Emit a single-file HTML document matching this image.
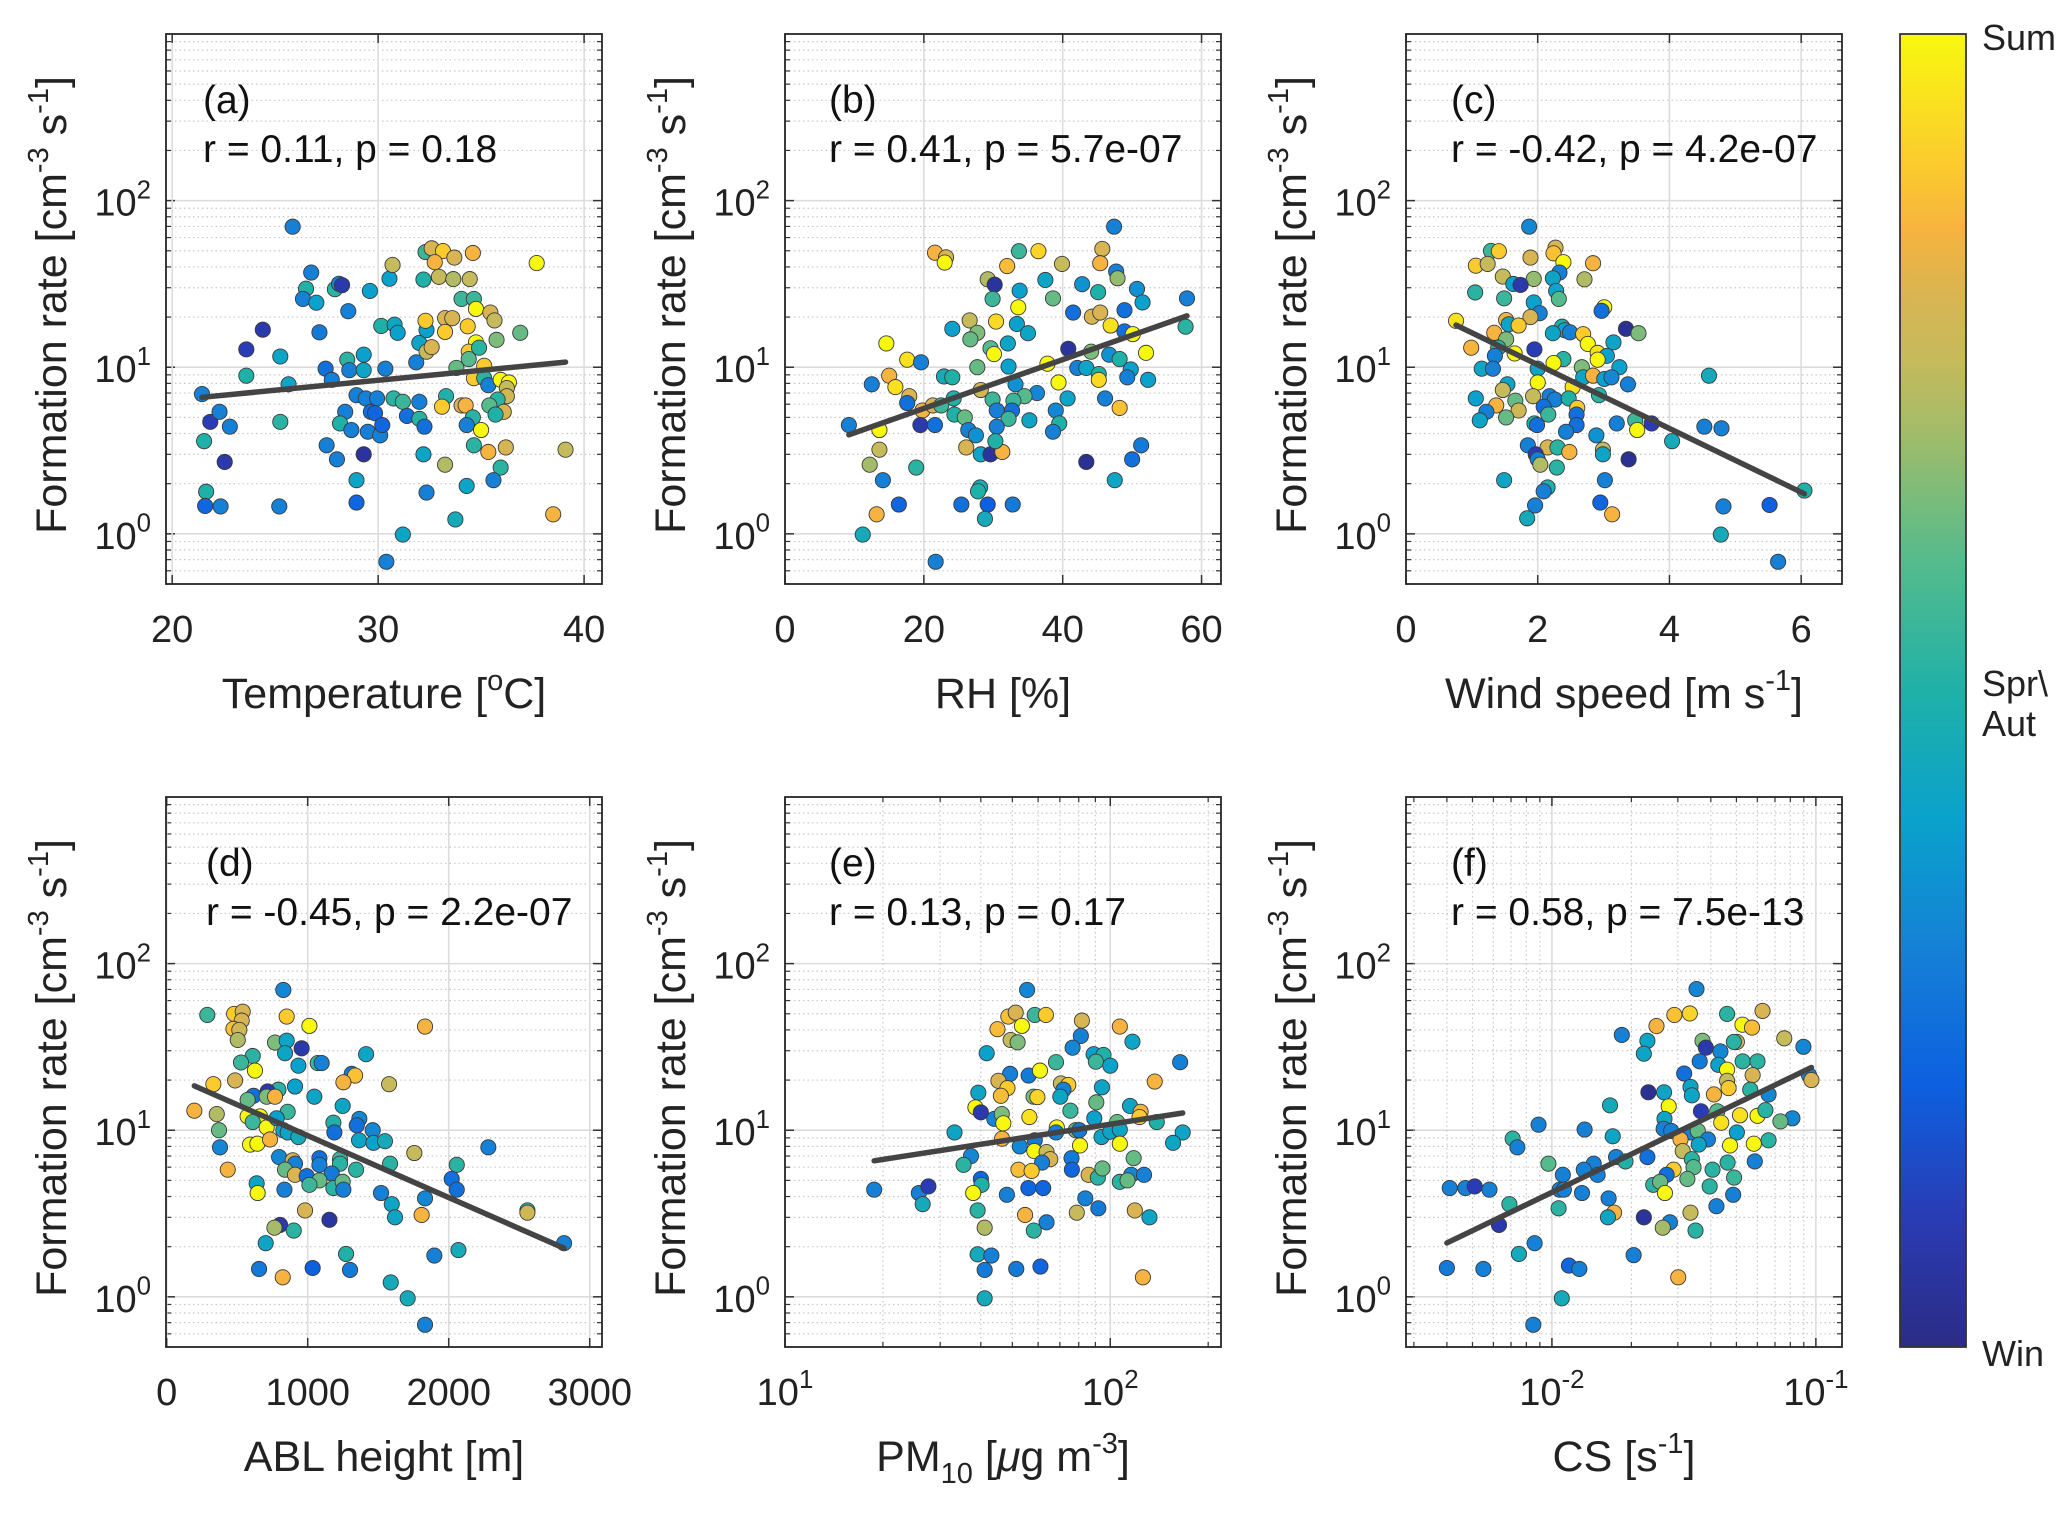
<!DOCTYPE html>
<html><head><meta charset="utf-8"><title>Formation rate scatter panels</title>
<style>
html,body{margin:0;padding:0;background:#fff;}
svg{display:block;font-family:"Liberation Sans",Arial,sans-serif;}
</style></head>
<body>
<svg id="fig" width="2067" height="1524" viewBox="0 0 2067 1524" xmlns="http://www.w3.org/2000/svg"></svg>
<script>
// ===== Panel (a) Temperature =====
const aX=[25.85,26.75,26.5,26.35,27.0,27.9,28.1,28.25,29.6,28.55,27.15,24.4,23.6,25.25,23.6,25.65,27.45,27.75,28.5,29.3,28.6,29.3,28.95,29.4,29.95,29.65,29.85,28.4,28.15,28.7,29.5,30.1,30.2,27.5,28.0,29.3,28.95,28.95,30.35,30.15,30.8,30.95,30.55,30.7,30.75,31.2,31.4,31.85,32.0,32.0,32.25,32.2,32.35,31.2,30.4,32.0,32.35,32.35,32.6,32.3,32.2,32.3,32.6,33.15,32.75,32.95,33.7,34.6,33.65,34.45,34.05,34.65,33.25,33.6,33.25,34.35,34.75,35.45,35.65,35.75,36.9,34.75,34.4,34.9,34.4,33.8,35.15,34.65,35.15,35.35,35.95,36.35,36.25,36.25,35.8,36.1,35.4,35.7,34.05,34.25,33.3,33.1,34.6,34.3,35.0,36.2,34.65,35.35,33.25,35.95,35.6,34.3,33.75,37.7,39.1,38.5,21.45,21.85,22.3,22.8,21.55,22.55,21.65,21.6,22.35,25.25,25.2];
const aY=[69.7,37,29.6,25.7,24.4,29.4,31.7,31.1,28.7,21.7,16.2,16.8,12.8,11.6,8.9,7.9,9.8,8.4,11.1,11.9,9.6,9.6,6.8,6.5,6.5,5.4,5.3,5.4,4.6,4.2,4.1,3.9,4.5,3.4,2.8,3.0,2.1,1.54,9.8,17.7,18.0,16.1,34.0,41.1,6.5,6.2,5.1,10.7,6.2,4.9,4.4,3.0,1.77,0.99,0.68,14.0,16.7,12.4,13.2,19.0,33.6,49.1,51.7,49.8,42.7,34.9,45.5,48.5,33.8,33.8,25.7,25.7,19.7,19.7,16.3,17.6,22.4,21.3,19.1,14.6,16.1,14.1,12.4,13.1,11.2,9.9,10.2,8.6,8.6,7.8,8.4,8.1,7.5,6.7,6.4,5.4,5.9,5.2,5.9,5.9,6.7,5.8,5.0,4.5,4.2,3.3,3.4,3.1,2.6,2.5,2.1,1.94,1.22,42.2,3.2,1.31,6.9,4.7,5.4,4.4,3.6,2.7,1.79,1.47,1.46,4.7,1.46];
const aC=[0.3,0.3,0.5,0.3,0.4,0.52,0.3,0.08,0.4,0.3,0.28,0.08,0.1,0.42,0.5,0.42,0.25,0.3,0.52,0.4,0.3,0.42,0.3,0.3,0.3,0.25,0.22,0.3,0.5,0.3,0.3,0.3,0.22,0.3,0.3,0.05,0.42,0.22,0.3,0.5,0.42,0.4,0.4,0.75,0.52,0.55,0.25,0.3,0.3,0.52,0.25,0.42,0.3,0.42,0.3,0.42,0.4,0.75,0.8,0.9,0.5,0.55,0.8,0.9,0.85,0.75,0.8,0.85,0.72,0.75,0.55,0.55,0.8,0.8,0.9,0.9,1,0.8,0.75,0.65,0.62,1,0.9,0.52,0.6,0.62,0.9,0.9,0.52,0.3,1,1,0.75,0.78,0.52,0.8,0.6,0.5,0.8,0.85,0.5,0.9,0.52,0.3,1,0.8,0.52,0.85,0.72,0.52,0.3,0.42,0.45,1,0.75,0.85,0.3,0.1,0.3,0.3,0.5,0.08,0.5,0.22,0.3,0.52,0.3];
const aTicks=[20,30,40];

// ===== Panel (b) RH =====
const bX=[47.4,21.6,23.2,23.0,33.7,36.5,32.0,39.9,45.7,45.4,47.7,47.9,29.2,30.2,29.9,33.8,37.5,38.6,42.8,45.1,50.7,51.5,57.9,33.6,41.5,48.9,44.2,45.4,46.9,48.9,50.1,57.7,26.6,24.1,30.4,33.4,35.0,27.7,26.7,32.1,29.6,30.1,14.6,17.6,19.6,40.8,44.1,46.7,48.2,52.0,27.7,32.2,37.8,42.1,43.4,45.2,45.2,49.8,49.3,52.3,39.4,12.5,15.0,15.9,22.9,24.1,28.2,33.2,36.3,34.5,29.9,32.9,40.7,46.1,48.2,17.9,17.6,19.8,21.3,22.5,24.3,24.4,25.9,30.5,32.7,32.2,30.5,39.0,39.5,35.2,38.6,9.2,13.6,19.5,21.6,26.4,27.5,13.6,12.2,18.9,14.1,26.1,28.2,29.6,31.3,30.3,43.4,50.0,51.3,47.5,28.1,27.8,16.4,25.4,29.2,32.8,28.8,13.2,11.2,21.7];
const bY=[69.8,48.7,45.7,42.5,49.7,49.7,40.5,41.7,51.3,42.1,37.5,34.2,33.7,31.3,25.7,28.8,33.4,25.9,31.5,28.2,29.5,24.5,25.9,22.9,21.3,22.0,20.1,21.3,17.8,16.4,15.8,17.5,19.1,17.0,18.8,18.2,16.0,16.1,14.7,13.9,13.0,12.0,13.9,11.1,10.7,12.9,12.4,11.9,11.2,12.2,10,10.1,10.5,9.9,9.9,9.1,8.4,9.7,8.7,8.4,8.1,7.9,8.9,7.6,8.8,8.7,7.3,7.9,7.0,6.7,6.4,6.3,6.5,6.5,5.7,6.7,6.1,5.5,5.9,5.9,6.5,5.2,5.0,5.5,5.5,4.9,4.4,5.5,4.6,4.8,4.1,4.5,4.2,4.5,4.5,4.2,3.9,3.2,2.6,2.5,2.1,3.3,3.0,3.0,3.1,3.6,2.7,2.8,3.4,2.1,1.9,1.8,1.5,1.5,1.5,1.5,1.23,1.31,0.99,0.68];
const bC=[0.3,0.85,0.8,1,0.55,0.92,0.87,0.75,0.8,0.85,0.3,0.68,0.72,0.05,0.55,0.4,0.42,0.62,0.35,0.5,0.35,0.4,0.3,1,0.25,0.25,0.8,0.8,0.95,0.25,1,0.52,0.75,0.4,0.93,0.4,0.42,0.65,0.62,0.42,0.6,1,1,0.95,0.3,0.05,0.65,0.35,0.5,1,0.62,0.4,1,0.3,0.42,0.5,0.93,0.4,0.3,0.4,1,0.3,0.85,0.95,0.45,0.5,0.78,0.35,0.32,0.6,0.55,0.55,0.42,0.3,0.88,0.8,0.25,0.85,0.8,0.55,0.5,0.5,0.62,0.3,0.25,0.55,0.3,0.32,0.5,0.42,0.3,0.3,1,0.08,0.25,0.3,0.35,0.75,0.7,0.52,0.3,0.8,0.42,0.05,0.85,0.5,0.03,0.25,0.28,0.42,0.45,0.5,0.22,0.25,0.2,0.28,0.45,0.85,0.45,0.3];
const bTicks=[0,20,40,60];

// ===== Panel (c) Wind speed =====
const cX=[1.87,1.29,1.41,1.06,1.24,1.89,2.27,2.24,2.39,2.84,2.33,2.23,2.71,1.47,1.94,1.63,1.74,2.28,1.05,1.49,2.32,1.94,3.01,2.97,2.03,1.89,0.76,1.52,1.56,1.71,2.37,2.41,2.49,2.23,3.34,3.53,2.69,1.34,1.52,2.76,3.15,0.99,1.40,1.35,1.65,1.95,2.91,3.05,2.39,2.24,2.91,2.67,3.24,1.15,1.32,2.00,2.69,2.84,3.01,3.12,3.37,2.00,1.54,4.60,2.53,1.47,2.93,1.06,1.93,2.18,2.26,2.47,1.66,1.37,1.22,1.71,2.09,2.60,2.59,2.16,1.12,1.52,1.95,1.99,2.59,2.43,3.20,3.48,3.51,3.73,4.53,4.79,2.89,4.04,1.85,2.15,2.30,2.48,1.97,2.00,2.04,2.99,2.99,3.38,2.29,1.49,3.02,2.15,2.09,1.96,2.95,3.13,1.84,4.82,5.52,6.05,4.78,5.65];
const cY=[69.8,49.9,49.7,40.7,41.7,45.5,52.2,48.3,42.7,42.1,37.0,34.2,33.7,35.0,33.9,31.6,31.2,28.7,28.1,25.9,25.7,24.5,22.9,21.8,21.1,20.0,19.0,19.2,18.1,17.8,17.5,16.7,16.2,16.0,17.0,16.0,15.8,16.1,14.7,13.8,14.1,13.1,13.1,11.7,12.1,12.8,12.2,11.7,11.2,10.6,11.1,10,10,9.8,9.8,9.8,8.7,8.9,8.5,8.7,7.9,8.1,7.9,8.9,7.6,7.3,6.8,6.5,6.7,6.7,6.4,6.5,6.3,5.9,5.4,5.5,5.8,5.7,5.2,5.2,4.8,5.0,4.6,4.5,4.5,4.1,4.6,4.8,4.2,4.6,4.4,4.3,3.9,3.6,3.4,3.3,3.3,3.1,3.0,2.8,2.6,3.2,3.0,2.8,2.5,2.1,2.1,1.9,1.8,1.48,1.54,1.31,1.24,1.46,1.49,1.82,0.99,0.68];
const cC=[0.32,0.55,0.9,0.9,0.75,0.8,0.8,0.88,1,0.85,0.3,0.42,0.72,0.75,0.68,0.4,0.08,0.42,0.52,0.55,0.6,0.4,1,0.25,0.3,0.8,0.95,0.85,0.42,0.9,0.5,0.4,0.3,0.42,0.03,0.65,0.9,0.85,0.65,1,0.42,0.85,0.52,0.3,1,0.1,0.95,0.4,0.52,1,1,0.65,0.4,0.42,0.3,0.42,0.42,0.85,0.4,0.32,0.3,1,0.42,0.45,0.95,0.75,0.52,0.4,0.75,0.3,0.3,0.5,0.62,0.85,0.3,0.78,0.25,0.9,0.25,0.55,0.42,0.62,0.5,0.25,0.25,0.3,0.3,0.55,1,0.1,0.3,0.3,0.35,0.45,0.3,0.8,0.52,0.85,0.1,0.3,0.72,0.75,0.42,0.03,0.52,0.42,0.3,0.5,0.3,0.3,0.22,0.85,0.45,0.3,0.2,0.5,0.45,0.3];
const cTicks=[0,2,4,6];

// ===== Panel (d) ABL height =====
const dX=[827,288,478,539,532,473,515,504,851,1012,1832,768,851,957,839,1414,610,527,934,1071,1099,626,1312,1336,1253,1577,331,485,792,910,716,615,709,768,1047,1248,196,355,574,858,574,662,610,709,780,827,858,934,1182,1366,1348,1189,1461,1364,1466,1548,371,378,591,643,733,1756,2281,433,797,894,910,839,910,1083,1083,1229,1229,1343,1584,2057,993,1170,1083,1012,1182,1248,1253,2021,2057,638,645,835,1520,1596,1832,981,1154,1619,1808,2558,2558,804,764,901,702,2818,1272,1898,2069,655,1035,1300,823,1589,1709,1832];
const dY=[69.5,49.2,49.9,51.5,45.5,40.6,40.0,34.8,48.1,42.3,41.9,33.6,34.5,31.0,29.0,28.6,27.9,25.5,24.4,25.3,25.3,22.8,21.8,21.3,19.4,18.9,18.9,19.9,17.5,18.3,17.1,16.1,15.9,15.9,15.9,14.0,13.1,12.5,15.2,12.9,12.1,12.1,11.2,10.4,11.8,10.0,9.7,9.1,11.1,11.7,10.7,9.7,10.0,8.7,8.4,8.6,10.0,7.9,8.2,8.3,8.8,7.3,7.9,5.8,6.9,6.6,6.3,5.8,5.4,6.8,6.2,6.7,6.3,5.8,6.3,6.2,5.3,5.5,5.0,4.7,4.5,4.9,4.4,5.1,4.4,4.8,4.2,4.4,4.2,3.6,3.9,3.3,2.9,3.0,3.1,3.3,3.2,2.7,2.6,2.5,2.1,2.1,1.81,1.77,1.91,1.47,1.49,1.45,1.31,1.22,0.98,0.68];
const dC=[0.32,0.55,0.9,0.8,0.8,0.88,0.78,0.72,0.9,1,0.85,0.65,0.42,0.08,0.42,0.42,0.52,0.55,0.4,0.55,0.3,1,0.28,0.88,0.85,0.75,0.9,0.8,0.52,0.4,0.08,0.25,0.65,0.85,0.42,0.42,0.85,0.72,0.62,0.55,1,1,0.55,1,0.4,0.42,0.42,0.45,0.5,0.32,0.25,0.25,0.32,0.42,0.4,0.45,0.62,0.32,1,1,0.85,0.75,0.3,0.85,0.32,0.8,0.3,0.62,0.8,0.25,0.3,0.55,0.52,0.52,0.52,0.52,0.25,0.28,0.62,0.55,0.52,0.62,0.3,0.25,0.25,0.42,1,0.3,0.3,0.42,0.32,0.8,0.06,0.42,0.85,0.52,0.78,0.08,0.7,0.52,0.42,0.3,0.5,0.3,0.45,0.28,0.2,0.28,0.85,0.45,0.45,0.3];
const dTicks=[0,1000,2000,3000];

// ===== Panel (e) PM10 =====
const eX=[55.5,48.6,51.2,58.6,63.4,53.5,45.0,81.8,81.2,107,117,49.4,51.9,76.6,41.7,88.9,95.3,90.3,100,164,68.1,49.2,56.1,60.8,45.3,48.3,46.1,70.5,74.3,71.8,70.2,94.3,137,39.3,58.1,59.7,90.6,75.4,38.5,40.0,44.0,46.4,46.9,56.4,115,124,123,139,89.3,105,33.2,46.5,68.5,68.1,78.3,80.3,94.0,100,107,167,156,52.7,58.6,58.4,63.7,65.4,61.7,80.7,107,76.0,76.2,118,37.3,35.4,52.2,57.3,85.8,91.6,94.6,116,127,107,113,40.0,40.2,37.9,56.0,62.2,48.1,83.8,91.9,18.8,25.8,27.6,26.5,39.1,54.7,78.9,119,132,63.7,41.1,58.2,39.1,43.1,41.1,51.4,61.0,126,41.1];
const eY=[69.5,48.1,50.8,49.2,49.2,42.3,40.4,45.5,36.8,41.9,34.0,34.8,33.7,31.3,29.0,28.6,28.3,25.8,24.4,25.6,25.6,21.8,21.3,22.8,19.8,17.9,16.1,19.1,18.7,17.5,15.9,18.1,19.6,16.8,15.9,15.8,14.7,13.1,13.7,12.8,11.7,12.5,11.0,12.0,14.0,12.9,12.0,11.2,11.8,11.2,9.7,8.9,10.4,9.7,10.0,10.0,9.1,9.8,10.1,9.7,8.4,8.0,8.7,7.5,7.4,6.7,6.4,8.1,8.3,6.8,5.8,6.8,7.0,6.2,5.8,5.7,5.4,5.2,5.9,5.4,5.4,4.9,5.0,5.1,4.7,4.2,4.5,4.5,4.1,3.9,3.4,4.4,4.2,4.6,3.6,3.3,3.1,3.2,3.3,3.0,2.8,2.6,2.5,1.8,1.77,1.45,1.47,1.52,1.31,0.98];
const eC=[0.32,0.88,0.8,0.55,0.9,1,0.87,0.8,0.3,0.85,0.42,0.75,0.65,0.32,0.4,0.4,0.5,0.55,0.4,0.3,0.55,0.3,0.28,1,0.8,0.9,0.87,0.75,0.9,0.3,0.42,0.42,0.85,0.42,0.65,0.92,0.62,0.55,1,0.08,0.32,0.65,1,0.95,0.42,0.85,0.9,0.5,0.4,0.62,0.42,0.85,1,0.3,0.62,0.28,0.42,0.42,0.42,0.42,0.42,0.32,0.28,1,0.75,0.8,0.3,1,1,0.28,0.22,0.62,0.32,0.52,0.87,0.9,0.8,0.52,0.62,0.32,0.3,0.52,0.62,0.22,0.5,1,0.22,0.22,0.3,0.3,0.28,0.3,0.3,0.1,0.45,0.52,0.85,0.75,0.8,0.42,0.3,0.72,0.52,0.45,0.3,0.28,0.28,0.22,0.85,0.45];
const eTicks=[10,100];

// ===== Panel (f) CS =====
const fX=[0.0353,0.0291,0.0333,0.0249,0.0461,0.0628,0.0527,0.0573,0.0184,0.0230,0.0223,0.0372,0.0383,0.0502,0.0489,0.0435,0.0759,0.0897,0.0363,0.0427,0.0528,0.0601,0.0317,0.0461,0.0576,0.0942,0.0962,0.0461,0.0467,0.0335,0.0339,0.0266,0.0232,0.0411,0.0564,0.0662,0.0166,0.0277,0.0367,0.0423,0.0516,0.0601,0.0644,0.0815,0.0734,0.0438,0.0089,0.0133,0.0267,0.0265,0.0283,0.0335,0.0357,0.0390,0.0502,0.0307,0.0360,0.0473,0.0582,0.0662,0.0071,0.0074,0.0170,0.0175,0.0190,0.0230,0.0313,0.0339,0.0463,0.0587,0.0097,0.0144,0.0132,0.0110,0.0149,0.0289,0.0272,0.0344,0.0406,0.0490,0.0326,0.0242,0.0257,0.0268,0.0396,0.0486,0.0041,0.0047,0.0051,0.0058,0.0107,0.0111,0.0130,0.0069,0.0106,0.0164,0.0172,0.0163,0.0223,0.0335,0.0420,0.0280,0.0263,0.0350,0.0063,0.0040,0.0055,0.0086,0.0075,0.0116,0.0127,0.0204,0.0301,0.0109,0.0085];
const fY=[70.4,49.2,50.2,42.2,49.9,52.0,43.0,41.3,37.3,34.4,28.8,34.4,31.3,33.9,33.9,29.7,35.6,31.7,25.9,24.7,25.9,25.9,21.9,23.1,21.4,21.4,20.0,19.8,17.9,18.2,16.2,16.9,16.9,16.4,17.5,16.4,14.1,13.9,13.0,13.0,12.3,12.2,13.2,11.8,11.3,11.1,10.8,10.1,11.7,10.2,9.9,9.7,9.9,8.8,9.7,8.8,8.2,8.1,8.3,8.7,8.9,7.9,9.2,6.9,6.5,6.9,7.5,6.7,6.4,6.5,6.3,6.3,5.8,5.4,5.4,5.8,5.4,6.0,5.8,5.2,5.1,4.7,4.9,4.2,4.6,4.1,4.5,4.5,4.6,4.4,4.4,4.4,4.2,3.6,3.4,3.9,3.2,3.0,3.0,3.2,3.5,2.8,2.6,2.5,2.7,1.49,1.47,2.1,1.81,1.54,1.47,1.78,1.31,0.98,0.68];
const fC=[0.32,0.88,0.92,0.85,0.52,0.8,1,0.87,0.3,0.42,0.42,0.65,0.08,0.75,0.52,0.32,0.75,0.32,0.28,0.4,0.52,0.52,0.25,1,0.8,0.3,0.8,0.75,0.9,0.42,0.42,0.42,0.03,0.85,0.52,0.32,0.45,1,0.1,0.6,0.95,1,0.52,0.32,0.62,0.95,0.3,0.3,0.42,0.3,0.3,0.3,0.62,0.3,0.4,0.85,0.42,1,1,0.52,0.52,0.3,0.42,0.3,0.5,0.25,0.75,0.52,0.52,0.3,0.6,0.3,0.3,0.3,0.3,0.9,0.25,0.6,0.52,0.55,0.62,0.52,0.62,1,0.52,0.3,0.3,0.3,0.1,0.3,0.3,0.3,0.3,0.52,0.52,0.3,0.85,0.42,0.05,0.75,0.3,0.3,0.7,0.52,0.08,0.28,0.3,0.3,0.45,0.22,0.3,0.3,0.85,0.45,0.3];
const fTicks=[0.01,0.1];

// Colormap stops (season: 0 = Win, 1 = Sum)
const cmapPos=[0,0.1,0.2,0.3,0.4,0.5,0.6,0.7,0.75,0.8,0.85,0.9,1];
const cmapCol=["#2b2c85","#2a3cb5","#0d60e0","#1580d6","#0aa1cc","#1fb1a8","#56bb8c","#a4bc69","#c5ba5c","#d8b552","#f6b33f","#fbcb2e","#f8f80f"];

const NS="http://www.w3.org/2000/svg";
const svg=document.getElementById('fig');
function mk(tag,attrs,parent){const e=document.createElementNS(NS,tag);for(const k in attrs)e.setAttribute(k,attrs[k]);(parent||svg).appendChild(e);return e;}
function hex(h){return [parseInt(h.slice(1,3),16),parseInt(h.slice(3,5),16),parseInt(h.slice(5,7),16)];}
function cmap(v){v=Math.max(0,Math.min(1,v));for(let i=0;i<cmapPos.length-1;i++){if(v<=cmapPos[i+1]){const t=(v-cmapPos[i])/(cmapPos[i+1]-cmapPos[i]);const a=hex(cmapCol[i]),b=hex(cmapCol[i+1]);return 'rgb('+a.map((x,j)=>Math.round(x+(b[j]-x)*t)).join(',')+')';}}return cmapCol[cmapCol.length-1];}

const W=436,H=550;
const panels=[
 {id:'a',L:166,T:34,xs:'lin',xmin:19.7,xmax:40.87,X:aX,Y:aY,C:aC,ticks:aTicks,tx:37,lab:'(a)',stat:'r = 0.11, p = 0.18',xl:'temp'},
 {id:'b',L:785,T:34,xs:'lin',xmin:0,xmax:62.8,X:bX,Y:bY,C:bC,ticks:bTicks,tx:44,lab:'(b)',stat:'r = 0.41, p = 5.7e-07',xl:'rh'},
 {id:'c',L:1406,T:34,xs:'lin',xmin:0,xmax:6.62,X:cX,Y:cY,C:cC,ticks:cTicks,tx:45,lab:'(c)',stat:'r = -0.42, p = 4.2e-07',xl:'ws'},
 {id:'d',L:166,T:797,xs:'lin',xmin:-5,xmax:3087,X:dX,Y:dY,C:dC,ticks:dTicks,tx:40,lab:'(d)',stat:'r = -0.45, p = 2.2e-07',xl:'abl'},
 {id:'e',L:785,T:797,xs:'log',xmin:10,xmax:219,X:eX,Y:eY,C:eC,ticks:eTicks,tx:44,lab:'(e)',stat:'r = 0.13, p = 0.17',xl:'pm'},
 {id:'f',L:1406,T:797,xs:'log',xmin:0.0028,xmax:0.1256,X:fX,Y:fY,C:fC,ticks:fTicks,tx:45,lab:'(f)',stat:'r = 0.58, p = 7.5e-13',xl:'cs'}
];
const YMIN=0.5,YMAX=1000;
const TF=38;

function sup(parent,base,s,fs){const t1=mk('tspan',{},parent);t1.textContent=base;const t2=mk('tspan',{dy:-fs*0.45,'font-size':fs*0.68},parent);t2.textContent=s;}

panels.forEach(p=>{
  const g=mk('g',{});
  
  
  const fx=p.xs==='log'?(v=>p.L+(Math.log10(v)-Math.log10(p.xmin))/(Math.log10(p.xmax)-Math.log10(p.xmin))*W):(v=>p.L+(v-p.xmin)/(p.xmax-p.xmin)*W);
  const fy=v=>p.T+H-(Math.log10(v)-Math.log10(YMIN))/(Math.log10(YMAX)-Math.log10(YMIN))*H;
  const R=p.L+W,B=p.T+H;
  const grid=mk('g',{},g);
  
  
  for(let d=-1;d<=2;d++){for(let k=1;k<=9;k++){const v=k*Math.pow(10,d);if(v<YMIN||v>=YMAX)continue;const y=fy(v);
    if(k===1){mk('line',{x1:p.L,x2:R,y1:y,y2:y,stroke:'#dcdcdc','stroke-width':1.6},grid);
      mk('line',{x1:p.L,x2:p.L+9,y1:y,y2:y,stroke:'#333','stroke-width':1.5},grid);mk('line',{x1:R-9,x2:R,y1:y,y2:y,stroke:'#333','stroke-width':1.5},grid);}
    else{mk('line',{x1:p.L,x2:R,y1:y,y2:y,stroke:'#c8c8c8','stroke-width':1.2,'stroke-dasharray':'1.5,3'},grid);
      mk('line',{x1:p.L,x2:p.L+5,y1:y,y2:y,stroke:'#333','stroke-width':1.2},grid);mk('line',{x1:R-5,x2:R,y1:y,y2:y,stroke:'#333','stroke-width':1.2},grid);}
  }}
  if(p.xs==='lin'){p.ticks.forEach(v=>{const x=fx(v);mk('line',{x1:x,x2:x,y1:p.T,y2:B,stroke:'#dcdcdc','stroke-width':1.6},grid);mk('line',{x1:x,x2:x,y1:B-9,y2:B,stroke:'#333','stroke-width':1.5},grid);mk('line',{x1:x,x2:x,y1:p.T,y2:p.T+9,stroke:'#333','stroke-width':1.5},grid);});}
  else{for(let d=-3;d<=2;d++){for(let k=1;k<=9;k++){const v=k*Math.pow(10,d);if(v<p.xmin*0.999||v>p.xmax)continue;const x=fx(v);
    if(k===1){mk('line',{x1:x,x2:x,y1:p.T,y2:B,stroke:'#dcdcdc','stroke-width':1.6},grid);mk('line',{x1:x,x2:x,y1:B-9,y2:B,stroke:'#333','stroke-width':1.5},grid);mk('line',{x1:x,x2:x,y1:p.T,y2:p.T+9,stroke:'#333','stroke-width':1.5},grid);}
    else{mk('line',{x1:x,x2:x,y1:p.T,y2:B,stroke:'#c8c8c8','stroke-width':1.2,'stroke-dasharray':'1.5,3'},grid);mk('line',{x1:x,x2:x,y1:B-5,y2:B,stroke:'#333','stroke-width':1.2},grid);mk('line',{x1:x,x2:x,y1:p.T,y2:p.T+5,stroke:'#333','stroke-width':1.2},grid);}
  }}}
  const pts=mk('g',{},g);
  
  
  for(let i=0;i<p.X.length;i++){
    const c=mk('circle',{cx:fx(p.X[i]),cy:fy(p.Y[i]),r:7.6,fill:cmap(p.C[i]),stroke:'#3a3a3a','stroke-width':0.9},pts);
    
    
  }
  const tx=p.X.map(v=>p.xs==='log'?Math.log10(v):v),ty=p.Y.map(v=>Math.log10(v));
  const n=tx.length,mx=tx.reduce((s,v)=>s+v,0)/n,my=ty.reduce((s,v)=>s+v,0)/n;
  let sxy=0,sxx=0;for(let i=0;i<n;i++){sxy+=(tx[i]-mx)*(ty[i]-my);sxx+=(tx[i]-mx)*(tx[i]-mx);}
  const sl=sxy/sxx,ic=my-sl*mx;
  const x0=Math.min(...p.X),x1=Math.max(...p.X);
  const yv=x=>Math.pow(10,ic+sl*(p.xs==='log'?Math.log10(x):x));
  const ln=mk('line',{x1:fx(x0),y1:fy(yv(x0)),x2:fx(x1),y2:fy(yv(x1)),stroke:'#444','stroke-width':5.5,'stroke-linecap':'round'},g);
  
  
  const fr=mk('rect',{x:p.L,y:p.T,width:W,height:H,fill:'none',stroke:'#262626','stroke-width':1.8},g);
  
  
  [0,1,2].forEach(d=>{const t=mk('text',{x:p.L-15,y:fy(Math.pow(10,d))+15,'text-anchor':'end','font-size':TF,fill:'#222'},g);
    
    
    sup(t,'10',String(d),TF);});
  p.ticks.forEach(v=>{const t=mk('text',{x:fx(v),y:B+58,'text-anchor':'middle','font-size':TF,fill:'#222'},g);
    
    
    if(p.xs==='log'){sup(t,'10',String(Math.round(Math.log10(v))),TF);} else t.textContent=String(v);});
  const yl=mk('text',{x:0,y:0,transform:'translate('+(p.L-100)+','+(p.T+H/2-4)+') rotate(-90)','text-anchor':'middle','font-size':43,fill:'#222'},g);
  
  
  {const a=mk('tspan',{},yl);a.textContent='Formation rate [cm';const b=mk('tspan',{dy:-18,'font-size':29},yl);b.textContent='-3';const c=mk('tspan',{dy:18},yl);c.textContent=' s';const d=mk('tspan',{dy:-18,'font-size':29},yl);d.textContent='-1';const e=mk('tspan',{dy:18},yl);e.textContent=']';}
  const xl=mk('text',{x:p.L+W/2,y:B+124,'text-anchor':'middle','font-size':43,fill:'#222'},g);
  
  
  // parts: [text, dy, fontSize, italic]
  const parts={temp:[['Temperature [',0],['o',-18,29],['C]',18]],rh:[['RH [%]',0]],ws:[['Wind speed [m s',0],['-1',-18,29],[']',18]],abl:[['ABL height [m]',0]],pm:[['PM',0],['10',12,29],[' [',-12],['μ',0,null,1],['g m',0],['-3',-18,29],[']',18]],cs:[['CS [s',0],['-1',-18,29],[']',18]]}[p.xl];
  parts.forEach(q=>{const s=mk('tspan',{},xl);s.textContent=q[0];if(q[1])s.setAttribute('dy',q[1]);if(q[2])s.setAttribute('font-size',q[2]);if(q[3])s.setAttribute('font-style','italic');});
  const t1=mk('text',{x:p.L+p.tx,y:p.T+79,'font-size':39,fill:'#111'},g);t1.textContent=p.lab;
  
  
  const t2=mk('text',{x:p.L+p.tx,y:p.T+128,'font-size':39,fill:'#111'},g);t2.textContent=p.stat;
  
  
});

const defs=mk('defs',{});
const lg=mk('linearGradient',{id:'cbg',x1:0,y1:1,x2:0,y2:0},defs);
cmapPos.forEach((p,i)=>mk('stop',{offset:p,'stop-color':cmapCol[i]},lg));
const cbg=mk('g',{});


mk('rect',{x:1900,y:34,width:66,height:1313,fill:'url(#cbg)',stroke:'#333','stroke-width':1.8},cbg);
[['Sum',50],['Spr\\',696],['Aut',736],['Win',1366]].forEach(l=>{const t=mk('text',{x:1982,y:l[1],'font-size':36,fill:'#222'},cbg);t.textContent=l[0];
  
  });
</script>
</body></html>
